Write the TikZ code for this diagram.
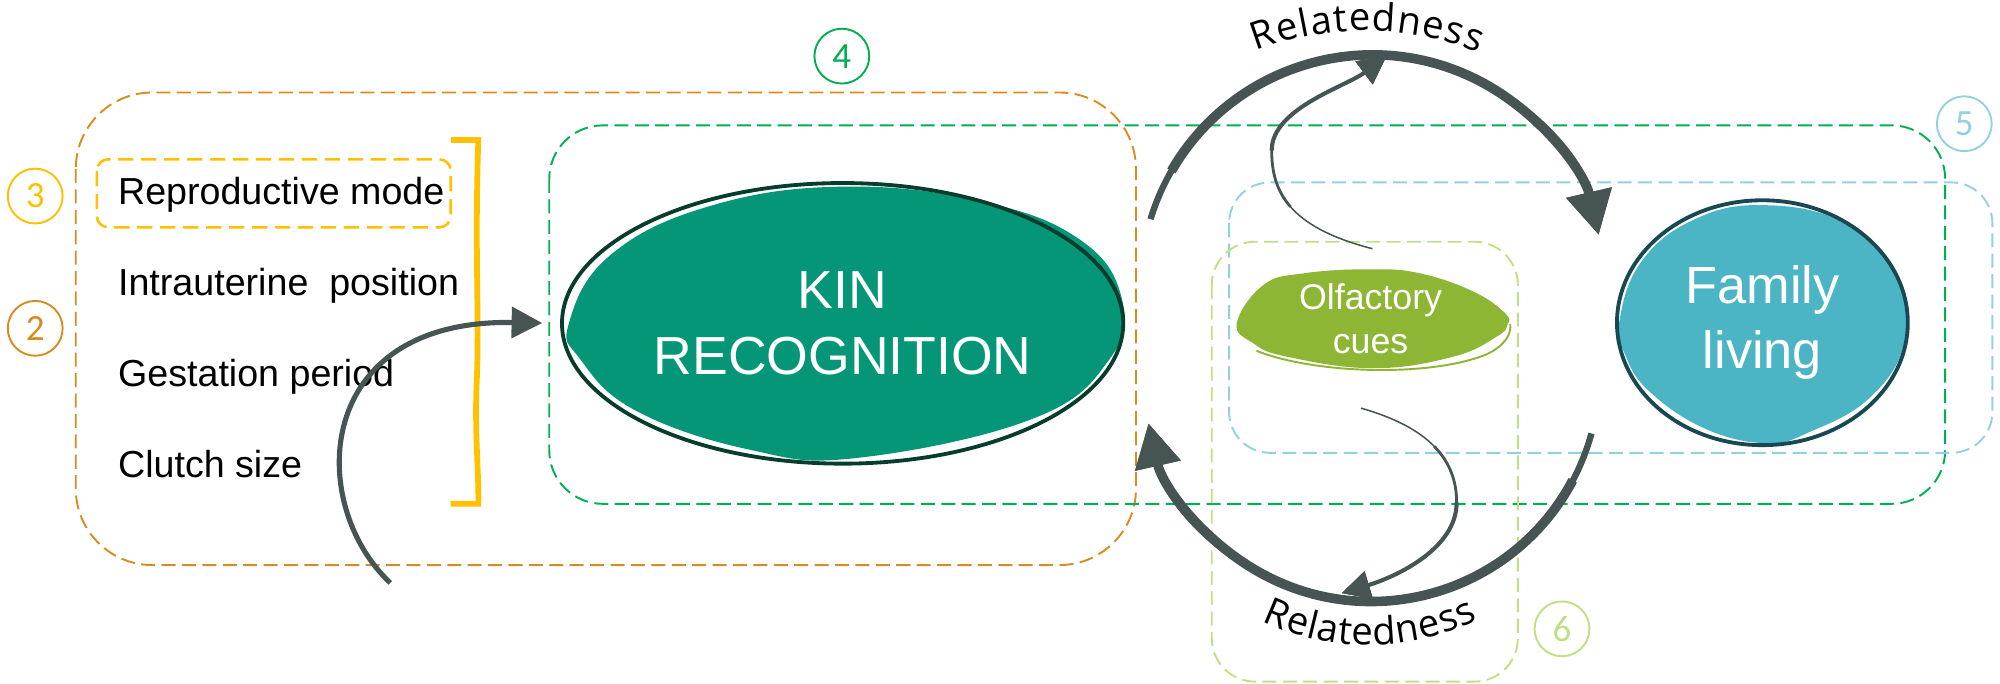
\documentclass[tikz,border=0pt]{standalone}
\usepackage{fontspec}
\setmainfont{Liberation Sans}
\newfontfamily\relfont{Open Sans}
\newfontfamily\numfont{Carlito}
\usetikzlibrary{arrows.meta,shapes.geometric,decorations.text}

\definecolor{kingreen}{RGB}{4,150,118}
\definecolor{kinline}{RGB}{8,60,45}
\definecolor{famblue}{RGB}{75,181,198}
\definecolor{famline}{RGB}{25,72,82}
\definecolor{olfgreen}{RGB}{140,182,52}
\definecolor{arrowgray}{RGB}{70,85,84}
\definecolor{boxorange}{RGB}{214,140,30}
\definecolor{boxyellow}{RGB}{255,192,0}
\definecolor{boxgreen}{RGB}{0,176,80}
\definecolor{boxblue}{RGB}{145,210,222}
\definecolor{boxlime}{RGB}{192,223,135}

\tikzset{
  groupbox/.style={dash pattern=on 11pt off 5pt, line width=1.5pt},
  numring/.style={circle, draw=#1, text=#1, line width=1.5pt, minimum size=43pt, inner sep=0pt, font=\numfont\fontsize{29}{29}\selectfont},
  traittext/.style={anchor=base west, inner sep=0pt, font=\fontsize{29.5}{29.5}\selectfont},
  bigarrow/.style={draw=arrowgray, line width=#1, -{Triangle[length=34pt,width=35pt]}},
  midarrow/.style={draw=arrowgray, line width=4pt, -{Triangle[length=24pt,width=24pt]}},
  thinarrow/.style={draw=arrowgray, line width=#1, -{Triangle[length=22pt,width=22pt]}},
  relatedtext/.style={decorate, decoration={text along path, text align=fit to path, text={|\relfont\fontsize{30}{30}\selectfont|Relatedness}}}
}

\begin{document}
\begin{tikzpicture}[x=1pt,y=1pt]
    \useasboundingbox (0,0) rectangle (1568,-536);
    % group frames
    \draw[groupbox, boxorange, rounded corners=60pt] (59.4,-72.5) rectangle (890.6,-443);
    \draw[groupbox, boxgreen, rounded corners=42pt] (430.6,-98.3) rectangle (1525,-395);
    \draw[groupbox, boxblue, rounded corners=32pt] (963.6,-143) rectangle (1562,-355);
    \draw[groupbox, boxlime, rounded corners=34pt] (950,-189.5) rectangle (1190,-534.4);
    \draw[groupbox, boxyellow, line width=2pt, dash pattern=on 12pt off 6pt, rounded corners=9pt] (75.9,-124.9) rectangle (353.4,-178.2);
    \draw[boxyellow, line width=4.5pt] (353.4,-109.8) -- (375,-109.8) .. controls (372,-200) and (376,-250) .. (373.7,-300) .. controls (372,-340) and (375.5,-370) .. (375,-395) -- (353.3,-395);

    % traits
    \node[traittext] (repro) at (92.4,-160) {Reproductive mode};
    \node[traittext] (intra) at (92.4,-232) {Intrauterine~~position};
    \node[traittext] (gest) at (92.4,-303) {Gestation period};
    \node[traittext] (clutch) at (92.4,-374) {Clutch size};

    % kin recognition
    \fill[kingreen] plot[smooth cycle, tension=0.7] coordinates {(446,-253.5) (477.7,-200.7) (555,-162) (660.6,-146.3) (770.6,-158.2) (847.1,-188.2) (879.5,-234.2) (869.9,-281.5) (809.9,-328.2) (672,-359) (588.4,-352.7) (498,-321.7) (454.5,-281.1)};
    \node[ellipse, draw=kinline, line width=3pt, minimum width=440pt, minimum height=220pt, inner sep=0pt, text=white, align=center, font=\fontsize{42}{52}\selectfont] (kin) at (660.6,-253.5) {KIN\\RECOGNITION};

    % family living
    \fill[famblue] plot[smooth cycle, tension=0.7] coordinates {(1269.4,-253) (1285.9,-206.4) (1326.7,-172.8) (1381.7,-160.8) (1446.4,-175.2) (1488.8,-220.2) (1492.8,-269.5) (1465.5,-312.2) (1418.7,-338.7) (1384.4,-347.5) (1335.9,-335.7) (1292.1,-305.9) (1273.8,-277.3)};
    \node[ellipse, draw=famline, line width=3pt, minimum width=228pt, minimum height=192pt, inner sep=0pt, text=white, align=center, font=\fontsize{41}{51}\selectfont] (fam) at (1381.7,-253) {Family\\living};

    % olfactory cues
    \fill[olfgreen] plot[smooth cycle, tension=0.7] coordinates {(969.6,-253.5) (990.5,-223.4) (1021.8,-214.3) (1074.1,-211.1) (1113.3,-214.3) (1155.1,-228.6) (1180,-245.6) (1181.8,-254.8) (1173.4,-263.9) (1139.4,-279.6) (1076.7,-288.7) (1008.8,-279.6) (982.6,-269.1)};
    \draw[olfgreen, line width=1.5pt] (985,-275) .. controls (1030,-293) and (1120,-296) .. (1165,-278) .. controls (1180,-271) and (1185,-262) .. (1184,-254);
    \node[text=white, align=center, inner sep=0pt, font=\fontsize{28}{34.5}\selectfont] (olf) at (1074.5,-250) {Olfactory\\cues};

    % arrows (thicker passes start later, so the tails run thinner)
    \coordinate (traits) at (306,-457);
    \draw[midarrow, shorten >=14pt] (traits) .. controls (240,-395) and (245,-250) .. (kin.west);
    \coordinate (relT) at (902,-171.8);
    \coordinate (relTmid) at (918.4,-134);
    \draw[bigarrow=5pt] (relT) arc[start angle=163, end angle=13, radius=182];
    \draw[bigarrow=7.5pt] (relTmid) arc[start angle=150, end angle=13, radius=182];
    \coordinate (relB) at (1247.7,-339.8);
    \coordinate (relBmid) at (1233,-376.6);
    \draw[bigarrow=5pt] (relB) arc[start angle=-15.3, end angle=-167.3, radius=179];
    \draw[bigarrow=7.5pt] (relBmid) arc[start angle=-28, end angle=-167.3, radius=179];
    \coordinate (olfT) at (1076,-195);
    \coordinate (olfTa) at (1011.75,-162.1);
    \coordinate (olfTb) at (997,-118);
    \coordinate (olfTtip) at (1087,-44);
    \draw[thinarrow=1.2pt] (olfT) .. controls (1010,-178) and (997,-150) .. (olfTb) .. controls (997,-85) and (1055,-68) .. (olfTtip);
    \draw[thinarrow=2.2pt] (olfTa) .. controls (1000.25,-149) and (997,-134) .. (olfTb) .. controls (997,-85) and (1055,-68) .. (olfTtip);
    \draw[thinarrow=3.2pt] (olfTb) .. controls (997,-85) and (1055,-68) .. (olfTtip);
    \coordinate (olfB) at (1067,-320);
    \coordinate (olfBa) at (1124.4,-349.9);
    \coordinate (olfBb) at (1142,-394);
    \coordinate (olfBtip) at (1052,-465);
    \draw[thinarrow=1.2pt] (olfB) .. controls (1120,-335) and (1142,-360) .. (olfBb) .. controls (1142,-430) and (1095,-452) .. (olfBtip);
    \draw[thinarrow=2.2pt] (olfBa) .. controls (1136.5,-362.25) and (1142,-377) .. (olfBb) .. controls (1142,-430) and (1095,-452) .. (olfBtip);
    \draw[thinarrow=3.2pt] (olfBb) .. controls (1142,-430) and (1095,-452) .. (olfBtip);

    % curved labels
    \path[relatedtext] (984.7,-39.8) arc[start angle=111, end angle=68, radius=238];
    \path[relatedtext] (989.1,-486.8) arc[start angle=-115.5, end angle=-64, radius=195];

    % numbers
    \node[numring=boxyellow] (n3) at (27.6,-153.7) {3};
    \node[numring=boxorange] (n2) at (27.6,-257.4) {2};
    \node[numring=boxgreen] (n4) at (660,-44) {4};
    \node[numring=boxblue] (n5) at (1540,-97) {5};
    \node[numring=boxlime] (n6) at (1224.6,-493) {6};
\end{tikzpicture}
\end{document}
